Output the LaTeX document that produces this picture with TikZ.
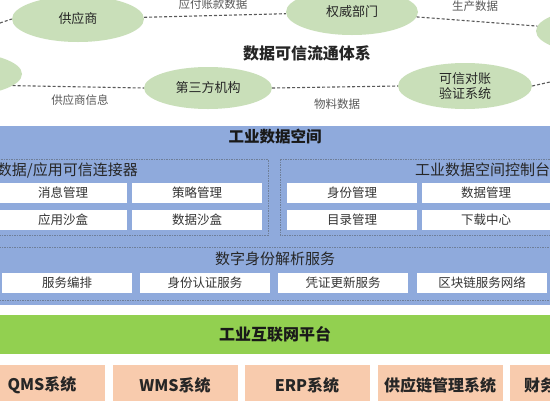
\documentclass[tikz,border=0pt]{standalone}
\usepackage{fontspec}
\setmainfont{Noto Sans CJK SC}
\usetikzlibrary{shapes.geometric}
\definecolor{ellg}{HTML}{C9DFB9}
\definecolor{panelblue}{HTML}{8FAADC}
\definecolor{platg}{HTML}{92D050}
\definecolor{sysor}{HTML}{F8CBAD}
\definecolor{dashc}{HTML}{595959}
\definecolor{boxline}{HTML}{6F7F99}
\tikzset{
 ent/.style={ellipse, fill=ellg, draw=none, inner sep=0pt, minimum width=132pt, minimum height=46pt, font=\fontsize{13}{15}\selectfont, align=center, text=black!85},
 flow/.style={draw=dashc, line width=1.1pt, dash pattern=on 3pt off 2pt},
 flowlbl/.style={font=\fontsize{11.5}{13}\selectfont, text=black!65},
 wbox/.style={rectangle, fill=white, draw=none, minimum width=130pt, minimum height=20pt, inner sep=0pt, font=\fontsize{12.5}{14}\selectfont, text=black!80},
 grp/.style={draw=boxline, line width=0.6pt, dash pattern=on 1.5pt off 1pt, fill=none},
 secttl/.style={font=\fontsize{15}{17}\selectfont, text=black!85, inner sep=0pt},
 sysbox/.style={rectangle, fill=sysor, minimum height=40pt, minimum width=125pt, inner sep=0pt, font=\bfseries\fontsize{16}{18}\selectfont, text=black!85},
}
\begin{document}
\begin{tikzpicture}[x=1pt,y=-1pt]
\clip (0,0) rectangle (550,400);
\fill[white] (0,0) rectangle (550,400);

% ---- data flow system ----
\node[ent] (sup) at (78,19) {供应商};
\node[ent] (auth) at (352,12) {权威部门};
\node[ent] (rtop) at (602,31) {};
\node[ent, minimum width=128pt, minimum height=44pt] (lft) at (-42,74) {};
\node[ent, minimum width=128pt, minimum height=42pt] (third) at (208,88) {第三方机构};
\node[ent, minimum width=134pt] (veri) at (465,86) {可信对账\\验证系统};
\coordinate (ledge) at (0,23);
\coordinate (redge) at (550,82);

\draw[flow] (ledge) -- (sup.west);
\draw[flow] (sup) -- (auth);
\draw[flow] (auth) -- (rtop);
\draw[flow] (lft.-12) -- (third.west);
\draw[flow] (third.east) -- (veri.west);
\draw[flow] (veri.east) -- (redge);

\node[flowlbl] (l1) at (213,4) {应付账款数据};
\node[flowlbl] (l2) at (475,6) {生产数据};
\node[flowlbl] (l3) at (80,100) {供应商信息};
\node[flowlbl] (l4) at (337,104) {物料数据};
\node[font=\bfseries\fontsize{16}{18}\selectfont, text=black!85] (ttl) at (307,53) {数据可信流通体系};

% ---- industrial data space ----
\fill[panelblue] (-5,126) rectangle (555,305);
\node[font=\bfseries\fontsize{15.5}{17}\selectfont, text=black!90] (ids) at (275,137) {工业数据空间};

\draw[grp] (-5,159) rectangle (268,235);
\node[secttl, anchor=east] (conn) at (138,170) {数据/应用可信连接器};
\node[wbox, minimum width=128pt] (b1) at (63,193) {消息管理};
\node[wbox] (b2) at (197,193) {策略管理};
\node[wbox, minimum width=128pt] (b3) at (63,219.5) {应用沙盒};
\node[wbox] (b4) at (197,219.5) {数据沙盒};

\draw[grp] (280,159) rectangle (560,235);
\node[secttl, anchor=west] (ctrl) at (415,170) {工业数据空间控制台};
\node[wbox] (b5) at (352,193) {身份管理};
\node[wbox, minimum width=128pt] (b6) at (486,193) {数据管理};
\node[wbox] (b7) at (352,219.5) {目录管理};
\node[wbox, minimum width=128pt] (b8) at (486,219.5) {下载中心};

\draw[grp] (-5,247) rectangle (555,300);
\node[secttl] (dig) at (275,259) {数字身份解析服务};
\node[wbox] (c1) at (67,283) {服务编排};
\node[wbox] (c2) at (205,283) {身份认证服务};
\node[wbox] (c3) at (343,283) {凭证更新服务};
\node[wbox] (c4) at (482,283) {区块链服务网络};

% ---- platform ----
\node[rectangle, fill=platg, minimum width=570pt, minimum height=39pt, inner sep=0pt, font=\bfseries\fontsize{16}{18}\selectfont, text=black!90] (plat) at (275,334) {工业互联网平台};

% ---- systems ----
\node[sysbox] (s1) at (42,385) {QMS系统};
\node[sysbox] (s2) at (175,385) {WMS系统};
\node[sysbox] (s3) at (307,385) {ERP系统};
\node[sysbox] (s4) at (440,385) {供应链管理系统};
\node[sysbox] (s5) at (572,385) {财务管理系统};
\end{tikzpicture}
\end{document}
